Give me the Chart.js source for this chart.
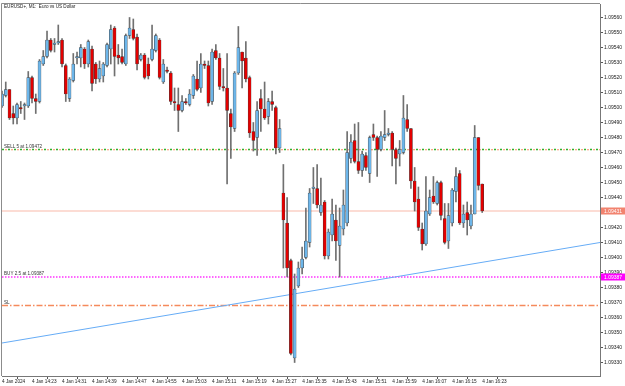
<!DOCTYPE html>
<html>
<head>
<meta charset="utf-8">
<script src="https://cdn.jsdelivr.net/npm/chart.js@4.4.1/dist/chart.umd.min.js"></script>
<style>
html, body { margin: 0; padding: 0; background: #fff; }
#wrap { width: 625px; height: 386px; position: relative; }
</style>
</head>
<body>
<div id="wrap"><canvas id="priceChart"></canvas></div>
<script>
// EURUSD M1 bars, 4 Jan 14:15 - 16:23
const opens = [1.09501,1.09508,1.09512,1.09496,1.09493,1.09500,1.09501,1.09501,1.09520,1.09506,
  1.09504,1.09529,1.09534,1.09545,1.09542,1.09543,1.09545,1.09528,1.09506,1.09518,
  1.09533,1.09533,1.09539,1.09529,1.09539,1.09529,1.09519,1.09521,1.09528,1.09539,
  1.09553,1.09535,1.09534,1.09529,1.09548,1.09552,1.09547,1.09532,1.09535,1.09529,
  1.09532,1.09538,1.09545,1.09517,1.09525,1.09523,1.09504,1.09502,1.09498,1.09504,
  1.09502,1.09508,1.09519,1.09513,1.09529,1.09528,1.09504,1.09538,1.09533,1.09514,
  1.09513,1.09496,1.09486,1.09523,1.09537,1.09533,1.09520,1.09484,1.09480,1.09506,
  1.09499,1.09494,1.09504,1.09500,1.09473,1.09443,1.09423,1.09398,1.09333,1.09381,
  1.09393,1.09400,1.09410,1.09446,1.09446,1.09430,1.09437,1.09401,1.09415,1.09425,
  1.09408,1.09419,1.09423,1.09466,1.09478,1.09464,1.09458,1.09468,1.09456,1.09482,
  1.09480,1.09472,1.09480,1.09482,1.09483,1.09472,1.09469,1.09470,1.09492,1.09486,
  1.09451,1.09439,1.09419,1.09409,1.09429,1.09441,1.09436,1.09450,1.09426,1.09411,
  1.09423,1.09444,1.09456,1.09423,1.09430,1.09421,1.09429,1.09480,1.09449];
const highs = [1.09511,1.09517,1.09512,1.09501,1.09503,1.09504,1.09503,1.09524,1.09521,1.09509,
  1.09532,1.09538,1.09551,1.09546,1.09546,1.09555,1.09546,1.09529,1.09520,1.09536,
  1.09537,1.09542,1.09540,1.09545,1.09541,1.09530,1.09531,1.09530,1.09543,1.09555,
  1.09554,1.09542,1.09539,1.09549,1.09560,1.09559,1.09549,1.09536,1.09536,1.09533,
  1.09555,1.09549,1.09546,1.09532,1.09527,1.09524,1.09513,1.09513,1.09508,1.09506,
  1.09512,1.09522,1.09531,1.09536,1.09531,1.09531,1.09539,1.09542,1.09536,1.09526,
  1.09536,1.09499,1.09524,1.09554,1.09537,1.09544,1.09521,1.09490,1.09504,1.09512,
  1.09517,1.09506,1.09511,1.09501,1.09492,1.09462,1.09440,1.09399,1.09389,1.09397,
  1.09407,1.09433,1.09446,1.09460,1.09462,1.09453,1.09438,1.09419,1.09439,1.09435,
  1.09433,1.09445,1.09484,1.09482,1.09489,1.09490,1.09471,1.09470,1.09481,1.09489,
  1.09481,1.09484,1.09498,1.09486,1.09484,1.09473,1.09478,1.09508,1.09502,1.09486,
  1.09460,1.09447,1.09423,1.09454,1.09445,1.09454,1.09451,1.09451,1.09436,1.09436,
  1.09446,1.09460,1.09458,1.09435,1.09437,1.09435,1.09488,1.09480,1.09449];
const lows = [1.09500,1.09507,1.09492,1.09489,1.09489,1.09496,1.09492,1.09500,1.09503,1.09496,
  1.09503,1.09528,1.09533,1.09537,1.09537,1.09542,1.09527,1.09504,1.09504,1.09517,
  1.09529,1.09527,1.09526,1.09527,1.09511,1.09516,1.09517,1.09517,1.09527,1.09529,
  1.09521,1.09529,1.09529,1.09528,1.09546,1.09545,1.09525,1.09531,1.09519,1.09519,
  1.09531,1.09537,1.09519,1.09516,1.09523,1.09502,1.09498,1.09484,1.09497,1.09502,
  1.09501,1.09506,1.09511,1.09510,1.09526,1.09501,1.09502,1.09532,1.09512,1.09511,
  1.09449,1.09466,1.09484,1.09522,1.09513,1.09517,1.09480,1.09471,1.09468,1.09484,
  1.09492,1.09489,1.09498,1.09469,1.09470,1.09393,1.09387,1.09335,1.09330,1.09380,
  1.09389,1.09399,1.09407,1.09436,1.09433,1.09428,1.09399,1.09399,1.09411,1.09398,
  1.09387,1.09415,1.09421,1.09463,1.09463,1.09456,1.09454,1.09458,1.09450,1.09478,
  1.09454,1.09471,1.09478,1.09481,1.09461,1.09449,1.09461,1.09469,1.09484,1.09446,
  1.09431,1.09418,1.09405,1.09408,1.09428,1.09436,1.09435,1.09425,1.09409,1.09406,
  1.09421,1.09437,1.09422,1.09420,1.09415,1.09419,1.09429,1.09445,1.09430];
const closes = [1.09509,1.09512,1.09493,1.09493,1.09502,1.09499,1.09502,1.09520,1.09506,1.09504,
  1.09531,1.09534,1.09545,1.09538,1.09543,1.09544,1.09529,1.09509,1.09519,1.09529,
  1.09534,1.09540,1.09529,1.09544,1.09516,1.09519,1.09526,1.09529,1.09542,1.09552,
  1.09534,1.09533,1.09530,1.09548,1.09553,1.09546,1.09529,1.09535,1.09520,1.09521,
  1.09539,1.09548,1.09520,1.09529,1.09524,1.09504,1.09503,1.09498,1.09504,1.09503,
  1.09509,1.09521,1.09512,1.09529,1.09528,1.09503,1.09537,1.09533,1.09514,1.09513,
  1.09498,1.09487,1.09523,1.09540,1.09531,1.09519,1.09483,1.09478,1.09498,1.09499,
  1.09493,1.09504,1.09502,1.09473,1.09486,1.09425,1.09393,1.09336,1.09379,1.09393,
  1.09399,1.09411,1.09443,1.09447,1.09435,1.09435,1.09401,1.09417,1.09429,1.09411,
  1.09421,1.09435,1.09470,1.09477,1.09464,1.09458,1.09469,1.09460,1.09480,1.09480,
  1.09472,1.09481,1.09482,1.09483,1.09472,1.09466,1.09472,1.09493,1.09486,1.09451,
  1.09437,1.09420,1.09409,1.09431,1.09440,1.09437,1.09450,1.09428,1.09410,1.09428,
  1.09445,1.09454,1.09423,1.09429,1.09425,1.09429,1.09480,1.09448,1.09431];

const timeLabels = ['4 Jan 2024', '4 Jan 14:23', '4 Jan 14:31', '4 Jan 14:39', '4 Jan 14:47',
  '4 Jan 14:55', '4 Jan 15:03', '4 Jan 15:11', '4 Jan 15:19', '4 Jan 15:27', '4 Jan 15:35',
  '4 Jan 15:43', '4 Jan 15:51', '4 Jan 15:59', '4 Jan 16:07', '4 Jan 16:15', '4 Jan 16:23'];
const priceTicks = [1.09330, 1.09340, 1.09350, 1.09360, 1.09370, 1.09380, 1.09390, 1.09400,
  1.09410, 1.09420, 1.09430, 1.09440, 1.09450, 1.09460, 1.09470, 1.09480, 1.09490, 1.09500,
  1.09510, 1.09520, 1.09530, 1.09540, 1.09550, 1.09560];

const sellPrice = 1.09472;
const buyPrice = 1.09387;
const slPrice = 1.09368;
const bidPrice = 1.09431;
const trendStart = 1.09343;
const trendEnd = 1.09410;

const xMax = 159.4;
const fontFam = '"Liberation Sans", Arial, sans-serif';

const upColor = '#6db6ea';
const downColor = '#e30000';

function hline(price, color, dash, width, dashOffset) {
  return {
    type: 'line',
    data: [{ x: 0, y: price }, { x: xMax, y: price }],
    borderColor: color,
    borderWidth: width,
    borderDash: dash,
    borderDashOffset: dashOffset || 0,
    pointRadius: 0,
    order: 5
  };
}

// labels for order lines and axis price boxes
const overlayPlugin = {
  id: 'overlay',
  afterDraw(chart) {
    const ctx = chart.ctx;
    const area = chart.chartArea;
    const y = chart.scales.y;
    ctx.save();
    // frame
    ctx.strokeStyle = '#8c8c8c';
    ctx.lineWidth = 1;
    ctx.beginPath();
    ctx.moveTo(area.left - 0.5, area.bottom);
    ctx.lineTo(area.left - 0.5, area.top - 0.5);
    ctx.lineTo(area.right, area.top - 0.5);
    ctx.stroke();

    ctx.font = '4.6px ' + fontFam;
    ctx.fillStyle = '#222';
    ctx.textBaseline = 'alphabetic';
    ctx.fillText('EURUSD+, M1:  Euro vs US Dollar', 4, 8);

    ctx.fillStyle = '#333';
    ctx.fillText('SELL 5 at ' + sellPrice.toFixed(5), 4, y.getPixelForValue(sellPrice) - 2);
    ctx.fillText('BUY 2.5 at ' + buyPrice.toFixed(5), 4, y.getPixelForValue(buyPrice) - 2);
    ctx.fillText('SL', 4, y.getPixelForValue(slPrice) - 2);

    // price boxes on the axis
    const boxes = [[bidPrice, '#f2836f'], [buyPrice, '#ff00ff']];
    boxes.forEach(([p, c]) => {
      const py = y.getPixelForValue(p);
      ctx.fillStyle = c;
      ctx.fillRect(area.right + 1, py - 3.5, 24, 7);
      ctx.fillStyle = '#fff';
      ctx.font = '5px ' + fontFam;
      ctx.textBaseline = 'middle';
      ctx.fillText(p.toFixed(5), area.right + 4, py + 0.3);
    });
    ctx.restore();
  }
};

const ctx = document.getElementById('priceChart').getContext('2d');
const priceChart = new Chart(ctx, {
  type: 'bar',
  data: {
    datasets: [
      {
        // wicks
        data: lows.map((l, i) => ({ x: i, y: [l, highs[i]] })),
        backgroundColor: '#707070',
        barThickness: 1,
        grouped: false,
        order: 1
      },
      {
        // bodies
        data: opens.map((o, i) => ({ x: i, y: [o, closes[i]] })),
        backgroundColor: opens.map((o, i) => closes[i] >= o ? upColor : downColor),
        borderColor: '#3a3a3a',
        borderWidth: 0.5,
        borderSkipped: false,
        barThickness: 3,
        grouped: false,
        order: 0
      },
      hline(sellPrice, '#2fb02f', [2, 4], 1.4),
      hline(sellPrice - 0.0000015, '#f79060', [2, 4], 1.2, 3),
      hline(bidPrice, '#fbd0c6', [], 1.5),
      hline(buyPrice, '#ff33ff', [1.5, 1.5], 1.5),
      hline(slPrice, '#f58a5c', [6, 2, 1.5, 2], 1.4),
      {
        type: 'line',
        data: [{ x: 0, y: trendStart }, { x: xMax, y: trendEnd }],
        borderColor: '#66acf6',
        borderWidth: 1,
        pointRadius: 0,
        order: 4
      }
    ]
  },
  options: {
    responsive: true,
    maintainAspectRatio: false,
    animation: false,
    layout: { padding: { left: 2, top: 2, right: 0, bottom: 0 } },
    plugins: {
      legend: { display: false },
      tooltip: { enabled: false }
    },
    scales: {
      x: {
        type: 'linear',
        min: 0,
        max: xMax,
        offset: false,
        afterBuildTicks: scale => {
          scale.ticks = timeLabels.map((t, k) => ({ value: k * 8 }));
        },
        afterFit: scale => { scale.height = 10; },
        grid: { drawOnChartArea: false, tickLength: 3, color: '#555' },
        border: { color: '#777' },
        ticks: {
          autoSkip: false,
          maxRotation: 0,
          align: 'start',
          padding: 0,
          color: '#222',
          font: { family: fontFam, size: 4.7 },
          callback: v => timeLabels[Math.round(v / 8)]
        }
      },
      y: {
        position: 'right',
        min: 1.09321,
        max: 1.09569,
        afterBuildTicks: scale => {
          scale.ticks = priceTicks.map(v => ({ value: v }));
        },
        afterFit: scale => { scale.width = 25; },
        grid: { drawOnChartArea: false, tickLength: 3, color: '#555' },
        border: { color: '#777' },
        ticks: {
          autoSkip: false,
          padding: 1,
          color: '#222',
          font: { family: fontFam, size: 5 },
          callback: v => v.toFixed(5)
        }
      }
    }
  },
  plugins: [overlayPlugin]
});
</script>
</body>
</html>
